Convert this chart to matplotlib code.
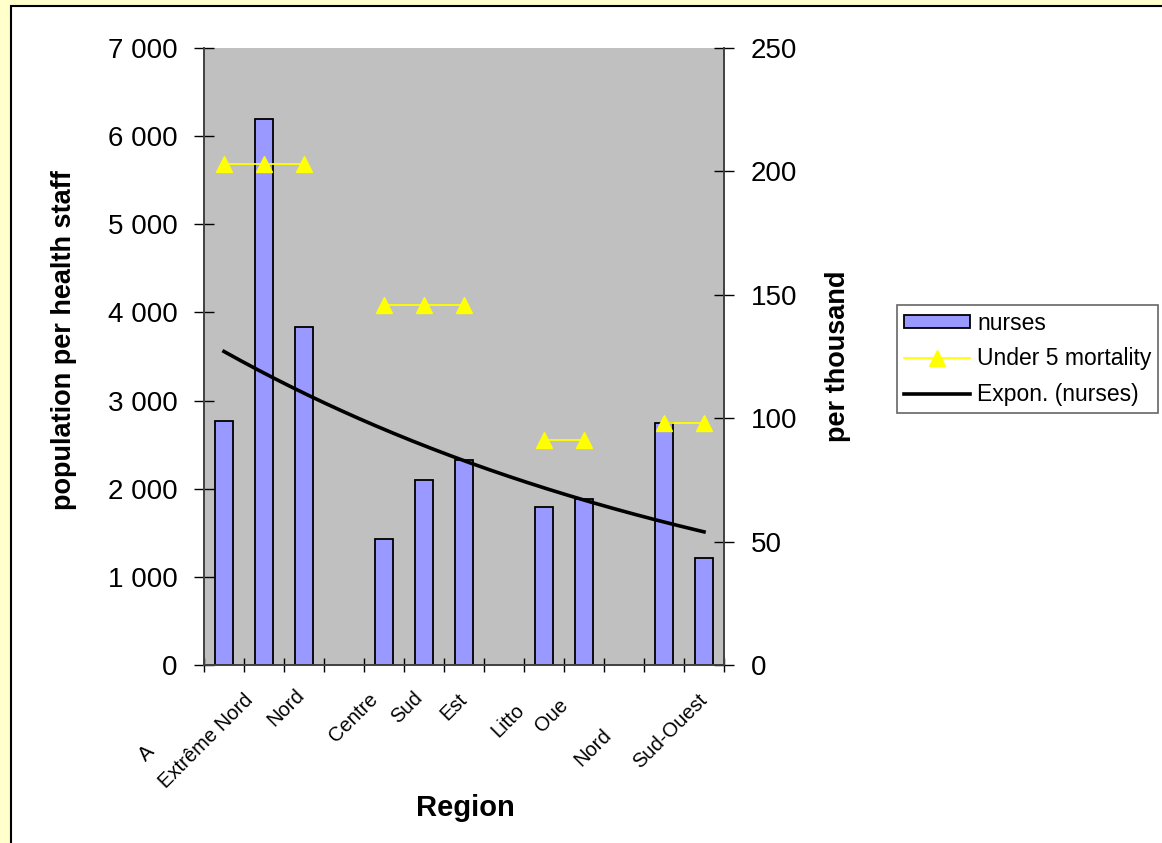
"""
Population per nurse by region, with under-5 mortality on a second axis
"""

import matplotlib
matplotlib.use("Agg")
import matplotlib.pyplot as plt
import numpy as np
from matplotlib.patches import Rectangle
from matplotlib.ticker import FuncFormatter

plt.rcParams["font.family"] = ["Liberation Sans", "DejaVu Sans"]

# one slot per category, empty slots keep the regional groups apart
slots = np.arange(13)
nurses = [2770, 6200, 3840, np.nan, 1430, 2100, 2330, np.nan, 1790, 1880, np.nan, 2750, 1210]
mortality = [203, 203, 203, np.nan, 146, 146, 146, np.nan, 91, 91, np.nan, 98, 98]

# category labels as they come out on the axis, with where each one ends
tick_text = ["A", "Extrême Nord", "Nord", "Centre", "Sud", "Est", "Litto", "Oue", "Nord", "Sud-Ouest"]
tick_at = [-1.98, 0.48, 1.78, 3.6, 4.73, 5.83, 7.28, 8.35, 9.45, 11.83]
tick_drop = [77, 25, 20, 25, 23, 25, 35, 30, 60, 25]

fig = plt.figure(figsize=(11.62, 8.43), dpi=100)
fig.patch.set_facecolor("#FFFFCC")
fig.patches.append(Rectangle((11 / 1162, -0.1), 1.2, 1.1 - 6 / 843,
                             transform=fig.transFigure, facecolor="white",
                             edgecolor="black", linewidth=1.5, zorder=-5))

ax = fig.add_axes([204 / 1162, 1 - 665 / 843, 520 / 1162, 617 / 843])
ax.set_facecolor("#C0C0C0")
ax2 = ax.twinx()

bars = ax.bar(slots, nurses, width=0.46, color="#9999FF", edgecolor="black",
              linewidth=1.3, label="nurses", zorder=2)

# exponential trend through the bars (Excel style, x counted from 1)
x = slots + 1
ok = ~np.isnan(nurses)
b, a = np.polyfit(x[ok], np.log(np.array(nurses)[ok]), 1)
xs = np.linspace(1, 13, 200)
trend, = ax.plot(xs - 1, np.exp(a + b * xs), color="black", linewidth=2.6,
                 label="Expon. (nurses)", zorder=3)

mort, = ax2.plot(slots, mortality, color="#FFFF00", linewidth=1.3, marker="^",
                 markersize=12, markeredgecolor="#FFFF00", label="Under 5 mortality")

ax.set_xlim(-0.5, 12.5)
ax.set_ylim(0, 7000)
ax2.set_ylim(0, 250)
ax.set_yticks(range(0, 7001, 1000))
ax2.set_yticks(range(0, 251, 50))
ax.yaxis.set_major_formatter(FuncFormatter(lambda v, p: f"{int(v):,}".replace(",", " ")))

ax.set_xticks(np.arange(-0.5, 13, 1))
ax.set_xticklabels([])
ax.tick_params(axis="x", direction="inout", length=10, width=1)
ax.tick_params(axis="y", direction="inout", length=14, width=1, labelsize=20, pad=12)
ax2.tick_params(axis="y", direction="inout", length=14, width=1, labelsize=20, pad=12)

for a_ in (ax, ax2):
    a_.spines["top"].set_visible(False)
    for s in ("left", "right", "bottom"):
        a_.spines[s].set_color("#404040")
        a_.spines[s].set_linewidth(1.2)

for txt, xp, dy in zip(tick_text, tick_at, tick_drop):
    ax.annotate(txt, xy=(xp, 0), xycoords=("data", "axes fraction"),
                xytext=(0, -dy * 0.72), textcoords="offset points",
                ha="right", va="top", rotation=45, rotation_mode="anchor",
                fontsize=14.5, annotation_clip=False)

ax.set_ylabel("population per health staff", fontsize=19.5, fontweight="bold")
ax.yaxis.set_label_coords(-0.244, 0.527)
ax2.set_ylabel("per thousand", fontsize=19.5, fontweight="bold", labelpad=20)
fig.text(465 / 1162, 1 - 808 / 843, "Region", fontsize=21, fontweight="bold",
         ha="center", va="center")

leg = fig.legend([bars, mort, trend], ["nurses", "Under 5 mortality", "Expon. (nurses)"],
                 loc="upper left", bbox_to_anchor=(897 / 1162, 1 - 305 / 843),
                 fontsize=16.5, frameon=True, fancybox=False, handlelength=2.9,
                 handleheight=0.5, labelspacing=0.55, borderpad=0.3, handletextpad=0.3,
                 borderaxespad=0)
leg.get_frame().set_edgecolor("#404040")
leg.get_frame().set_linewidth(1.2)

fig.savefig("out.png", dpi=100, facecolor=fig.get_facecolor())
